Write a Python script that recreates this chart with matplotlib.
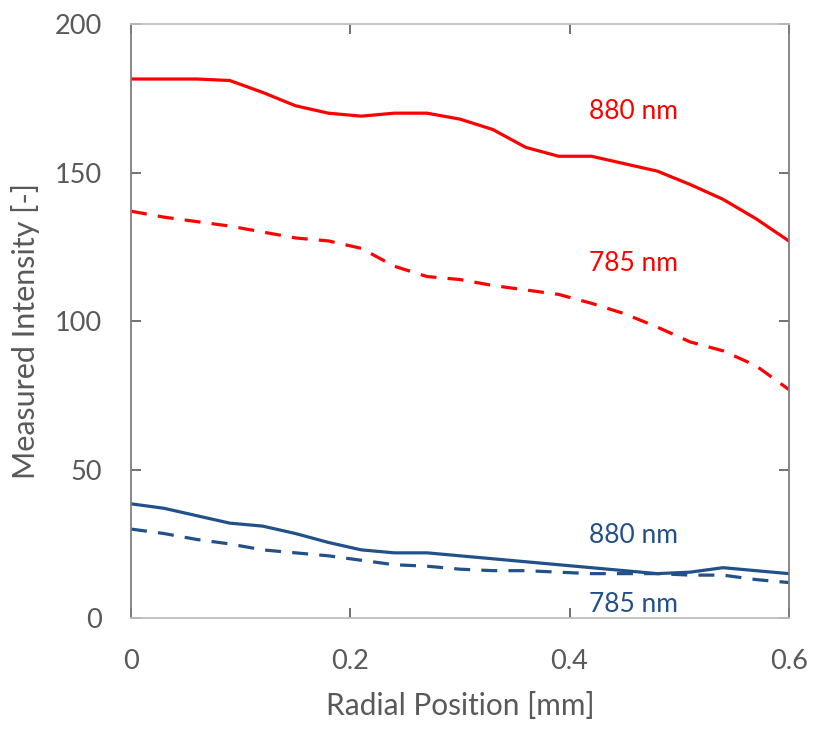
import numpy as np
import matplotlib
matplotlib.use('Agg')
import matplotlib.pyplot as plt

plt.rcParams['font.family'] = ['Lato', 'DejaVu Sans']

# radial positions [mm]
Radius = [0.00, 0.03, 0.06, 0.09, 0.12, 0.15, 0.18, 0.21, 0.24, 0.27, 0.30,
          0.33, 0.36, 0.39, 0.42, 0.45, 0.48, 0.51, 0.54, 0.57, 0.60]

# measured intensity, red set
Red880 = [181.5, 181.5, 181.5, 181, 177, 172.5, 170, 169, 170, 170, 168,
          164.5, 158.5, 155.5, 155.5, 153, 150.5, 146, 141, 134.5, 127]
Red785 = [137, 135, 133.5, 132, 130, 128, 127, 124.5, 118.5, 115, 114,
          112, 110.5, 109, 106, 102.5, 98, 93, 90, 85, 77]

# measured intensity, blue set
Blue880 = [38.5, 37, 34.5, 32, 31, 28.5, 25.5, 23, 22, 22, 21,
           20, 19, 18, 17, 16, 15, 15.5, 17, 16, 15]
Blue785 = [30, 28.5, 26.5, 25, 23, 22, 21, 19.5, 18, 17.5, 16.5,
           16, 16, 15.5, 15, 15, 15, 14.5, 14.5, 13, 12]

XTicks = [0, 0.2, 0.4, 0.6]
XTickLabels = ['0', '0.2', '0.4', '0.6']
YTicks = [0, 50, 100, 150, 200]

red = '#ff0000'
blue = '#22508a'
grey = '#595959'

fig = plt.figure(figsize=(8.14, 7.29), dpi=100)
ax = fig.add_axes([0.161, 0.152, 0.808, 0.815])

ax.plot(Radius, Red880, color=red, lw=2.3)
ax.plot(Radius, Red785, color=red, lw=2.3, dashes=(5, 3.5))
ax.plot(Radius, Blue880, color=blue, lw=2.3)
ax.plot(Radius, Blue785, color=blue, lw=2.3, dashes=(5, 3.5))

ax.text(0.458, 170.5, '880 nm', color=red, fontsize=19, ha='center', va='center')
ax.text(0.458, 119.5, '785 nm', color=red, fontsize=19, ha='center', va='center')
ax.text(0.458, 28, '880 nm', color=blue, fontsize=19, ha='center', va='center')
ax.text(0.458, 4.5, '785 nm', color=blue, fontsize=19, ha='center', va='center')

ax.set_xlim(0, 0.6)
ax.set_ylim(0, 200)
ax.set_xticks(XTicks)
ax.set_xticklabels(XTickLabels)
ax.set_yticks(YTicks)

ax.tick_params(axis='both', direction='in', length=7, width=1.2, color=grey,
               labelsize=19.5, labelcolor=grey, top=True, right=True)
ax.tick_params(axis='x', pad=22)
ax.tick_params(axis='y', pad=21)

ax.spines['left'].set_color('#7f7f7f')
ax.spines['right'].set_color('#7f7f7f')
ax.spines['top'].set_color('#bfbfbf')
ax.spines['bottom'].set_color('#bfbfbf')
for s in ax.spines.values():
    s.set_linewidth(1.3)

ax.set_xlabel('Radial Position [mm]', fontsize=21.5, color=grey, va='center')
ax.set_ylabel('Measured Intensity [-]', fontsize=22, color=grey, va='center')
ax.xaxis.set_label_coords(0.5, -0.148)
ax.yaxis.set_label_coords(-0.16, 0.483)

plt.savefig('out.png', dpi=100)
